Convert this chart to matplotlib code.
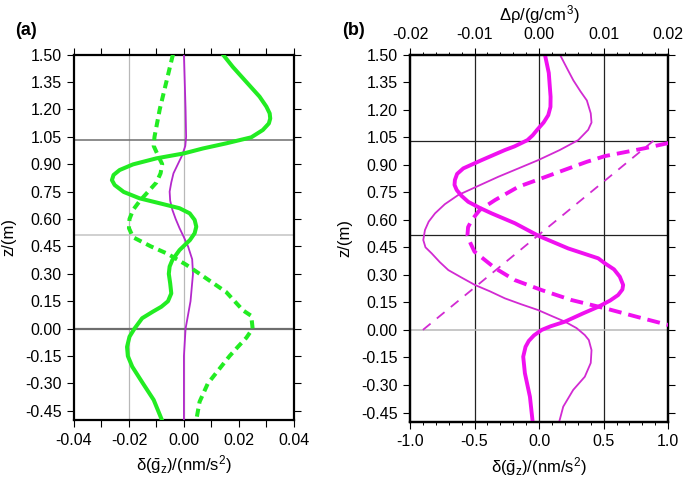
import matplotlib
matplotlib.use("Agg")
import matplotlib.pyplot as plt
from matplotlib.ticker import MultipleLocator, FormatStrFormatter
import numpy as np

plt.rcParams['font.family'] = ['Liberation Sans', 'DejaVu Sans']
plt.rcParams['mathtext.fontset'] = 'custom'
plt.rcParams['mathtext.rm'] = 'Liberation Sans'
plt.rcParams['mathtext.it'] = 'Liberation Sans'
plt.rcParams['mathtext.bf'] = 'Liberation Sans:bold'
plt.rcParams['axes.unicode_minus'] = False
plt.rcParams['lines.solid_joinstyle'] = 'round'
plt.rcParams['lines.dash_joinstyle'] = 'round'

# ---- panel (a) data: z (m) and delta g (nm/s^2) ----
z_a_solid = [1.50, 1.432, 1.35, 1.27, 1.215, 1.178, 1.15, 1.123, 1.087, 1.047, 1.014,
             0.986, 0.959, 0.932, 0.899, 0.868, 0.841, 0.813, 0.786, 0.748, 0.713,
             0.686, 0.659, 0.631, 0.595, 0.558, 0.522, 0.485, 0.43, 0.376, 0.34, 0.30,
             0.248, 0.193, 0.15, 0.12, 0.093, 0.057, 0.0, -0.044, -0.10, -0.15, -0.208,
             -0.30, -0.39, -0.50]
g_a_solid = [0.0142, 0.0178, 0.0227, 0.0275, 0.0300, 0.0312, 0.0314, 0.0309, 0.0287,
             0.0245, 0.0154, 0.0069, 0.0, -0.0100, -0.0185, -0.0234, -0.0256, -0.0262,
             -0.0252, -0.0219, -0.0161, -0.0088, -0.0016, 0.0021, 0.0039, 0.0045,
             0.0039, 0.0022, -0.0016, -0.0042, -0.0052, -0.0055, -0.0050, -0.0046,
             -0.0058, -0.0082, -0.0113, -0.0152, -0.0180, -0.0198, -0.0207, -0.0204,
             -0.0188, -0.0149, -0.0110, -0.0080]

z_a_dash = [1.50, 1.35, 1.20, 1.05, 1.00, 0.95, 0.90, 0.85, 0.80, 0.75, 0.70, 0.65, 0.60,
            0.55, 0.50, 0.45, 0.41, 0.35, 0.30, 0.20, 0.10, 0.07, 0.00, -0.05, -0.10,
            -0.15, -0.30, -0.40, -0.50]
g_a_dash = [-0.0040, -0.0064, -0.0088, -0.0107, -0.0110, -0.0095, -0.0079, -0.0085,
            -0.0100, -0.0130, -0.0160, -0.0185, -0.0198, -0.0200, -0.0185, -0.0120,
            -0.0060, 0.0008, 0.0057, 0.0154, 0.0215, 0.0245, 0.0250, 0.0227, 0.0196,
            0.0166, 0.0087, 0.0057, 0.0045]

z_a_thin = [1.50, 1.20, 1.05, 1.00, 0.95, 0.90, 0.85, 0.80, 0.75, 0.70, 0.65, 0.60, 0.55,
            0.50, 0.45, 0.38, 0.30, 0.15, 0.00, -0.15, -0.50]
g_a_thin = [0.0, 0.0006, 0.0008, 0.0005, -0.0006, -0.0022, -0.0038, -0.0046, -0.0052,
            -0.0050, -0.0042, -0.0030, -0.0016, 0.0, 0.0015, 0.0030, 0.0033, 0.0024,
            0.0006, 0.0, 0.0]

# ---- panel (b) data ----
z_b_thick = [1.50, 1.40, 1.27, 1.215, 1.17, 1.13, 1.09, 1.06, 1.034, 1.00, 0.98, 0.925,
             0.88, 0.85, 0.817, 0.79, 0.762, 0.73, 0.698, 0.665, 0.635, 0.581, 0.511,
             0.444, 0.39, 0.363, 0.33, 0.29, 0.245, 0.22, 0.19, 0.16, 0.126, 0.09,
             0.045, 0.02, 0.0, -0.03, -0.06, -0.092, -0.146, -0.236, -0.364, -0.50]
g_b_thick = [0.045, 0.075, 0.089, 0.088, 0.071, 0.035, -0.015, -0.05, -0.09, -0.19,
             -0.265, -0.445, -0.587, -0.635, -0.652, -0.655, -0.638, -0.60, -0.549,
             -0.46, -0.368, -0.187, 0.0, 0.225, 0.458, 0.509, 0.58, 0.625, 0.651, 0.645,
             0.612, 0.55, 0.458, 0.34, 0.2, 0.09, 0.02, -0.04, -0.08, -0.105, -0.123,
             -0.11, -0.071, -0.05]

z_b_thin = [1.50, 1.42, 1.36, 1.30, 1.25, 1.18, 1.13, 1.09, 1.034, 0.98, 0.925, 0.88,
            0.834, 0.785, 0.735, 0.685, 0.635, 0.59, 0.544, 0.49, 0.45, 0.417, 0.37,
            0.326, 0.285, 0.245, 0.21, 0.172, 0.14, 0.108, 0.075, 0.045, 0.01, -0.028,
            -0.055, -0.11, -0.18, -0.255, -0.327, -0.418, -0.50]
g_b_thin = [0.161, 0.22, 0.265, 0.32, 0.37, 0.40, 0.406, 0.38, 0.303, 0.16, -0.007,
            -0.16, -0.317, -0.47, -0.626, -0.73, -0.806, -0.855, -0.884, -0.897, -0.88,
            -0.832, -0.77, -0.703, -0.60, -0.497, -0.38, -0.265, -0.14, -0.007, 0.10,
            0.2, 0.29, 0.354, 0.385, 0.406, 0.40, 0.354, 0.264, 0.187, 0.156]

# density anomalies (top axis, g/cm^3)
z_rho_thick = [1.018, 0.99, 0.947, 0.916, 0.87, 0.826, 0.78, 0.708, 0.653, 0.60, 0.56,
               0.515, 0.47, 0.426, 0.336, 0.272, 0.217, 0.163, 0.118, 0.069, 0.027]
rho_thick = [0.0200, 0.0164, 0.0102, 0.0074, 0.0038, 0.0004, -0.0032, -0.0068, -0.0092,
             -0.0104, -0.0110, -0.0111, -0.0106, -0.0100, -0.0068, -0.0038, 0.0004,
             0.0050, 0.0102, 0.0154, 0.0200]
z_rho_thin = [0.0, 1.03]
rho_thin = [-0.0180, 0.0177]

layer_z = [1.03, 0.515, 0.0]
yticks = [-0.45, -0.30, -0.15, 0.0, 0.15, 0.30, 0.45, 0.60, 0.75, 0.90, 1.05, 1.20,
          1.35, 1.50]

green = '#22ec22'
mag = '#f010f0'
mag_thin = '#d22ad2'
purple = '#b428cc'

fig = plt.figure(figsize=(6.85, 4.78), dpi=100)
axa = fig.add_axes([0.108, 0.1213, 0.321, 0.7646])
axb = fig.add_axes([0.5985, 0.1178, 0.377, 0.768])


def style_axis(ax):
    for s in ax.spines.values():
        s.set_linewidth(1.6)
    ax.tick_params(which='major', direction='out', length=5, width=0.8,
                   labelsize=11.5, pad=4)
    ax.tick_params(which='minor', direction='out', length=2.2, width=0.7)


# ---- panel (a) ----
for xv in [-0.02, 0.0]:
    axa.axvline(xv, color='#b8b8b8', lw=0.9, zorder=1)
axa.axhline(layer_z[0], color='#6e6e6e', lw=1.1, zorder=1)
axa.axhline(layer_z[1], color='#c4c4c4', lw=1.1, zorder=1)
axa.axhline(layer_z[2], color='#6e6e6e', lw=1.6, zorder=1)
axa.plot(g_a_thin, z_a_thin, color=purple, lw=1.3, zorder=3)
axa.plot(g_a_dash, z_a_dash, color=green, lw=2.9, ls=(0, (2.0, 1.3)), zorder=3)
axa.plot(g_a_solid, z_a_solid, color=green, lw=2.9, zorder=4)
axa.set_xlim(-0.04, 0.04)
axa.set_ylim(-0.5, 1.5)
axa.set_xticks([-0.04, -0.03, -0.02, -0.01, 0.0, 0.01, 0.02, 0.03, 0.04])
axa.set_xticklabels(['-0.04', '', '-0.02', '', '0.00', '', '0.02', '', '0.04'])
axa.set_yticks(yticks)
axa.yaxis.set_major_formatter(FormatStrFormatter('%.2f'))
style_axis(axa)
axa.tick_params(top=True, right=True)
axa.set_xlabel(r'$\delta(\bar{g}_z)/(nm/s^2)$', fontsize=12, labelpad=4)
axa.set_ylabel('z/(m)', fontsize=12, labelpad=6)
fig.text(0.022, 0.937, '(a)', fontsize=13, fontweight='bold', va='center')

# ---- panel (b) ----
for xv in [-0.5, 0.0, 0.5]:
    axb.axvline(xv, color='#222222', lw=0.9, zorder=1)
axb.axhline(layer_z[0], color='#222222', lw=0.9, zorder=1)
axb.axhline(layer_z[1], color='#222222', lw=0.9, zorder=1)
axb.axhline(layer_z[2], color='#b8b8b8', lw=1.1, zorder=1)
axb.plot(g_b_thin, z_b_thin, color=mag_thin, lw=1.3, zorder=3)
axb.plot(g_b_thick, z_b_thick, color=mag, lw=2.8, zorder=4)
axb.set_xlim(-1.0, 1.0)
axb.set_ylim(-0.5, 1.5)
axb.set_xticks([-1.0, -0.5, 0.0, 0.5, 1.0])
axb.xaxis.set_major_formatter(FormatStrFormatter('%.1f'))
axb.xaxis.set_minor_locator(MultipleLocator(0.1))
axb.set_yticks(yticks)
axb.yaxis.set_major_formatter(FormatStrFormatter('%.2f'))
style_axis(axb)
axb.tick_params(which='both', right=True, top=False)
axb.set_xlabel(r'$\delta(\bar{g}_z)/(nm/s^2)$', fontsize=12, labelpad=4)
axb.set_ylabel('z/(m)', fontsize=12, labelpad=6)

axt = axb.twiny()
axt.plot(rho_thin, z_rho_thin, color=mag_thin, lw=1.3, ls=(0, (5.5, 4.5)), zorder=3)
axt.plot(rho_thick, z_rho_thick, color=mag, lw=2.8, ls=(0, (3.3, 1.8)), zorder=3)
axt.set_xlim(-0.02, 0.02)
axt.set_ylim(-0.5, 1.5)
axt.set_xticks([-0.02, -0.01, 0.0, 0.01, 0.02])
axt.xaxis.set_major_formatter(FormatStrFormatter('%.2f'))
axt.xaxis.set_minor_locator(MultipleLocator(0.002))
style_axis(axt)
axt.tick_params(which='both', top=True, bottom=False, labelbottom=False)
axt.set_xlabel(r'$\Delta\rho/(g/cm^3)$', fontsize=12, labelpad=5)
fig.text(0.500, 0.937, '(b)', fontsize=13, fontweight='bold', va='center')

fig.savefig('out.png', dpi=100)
